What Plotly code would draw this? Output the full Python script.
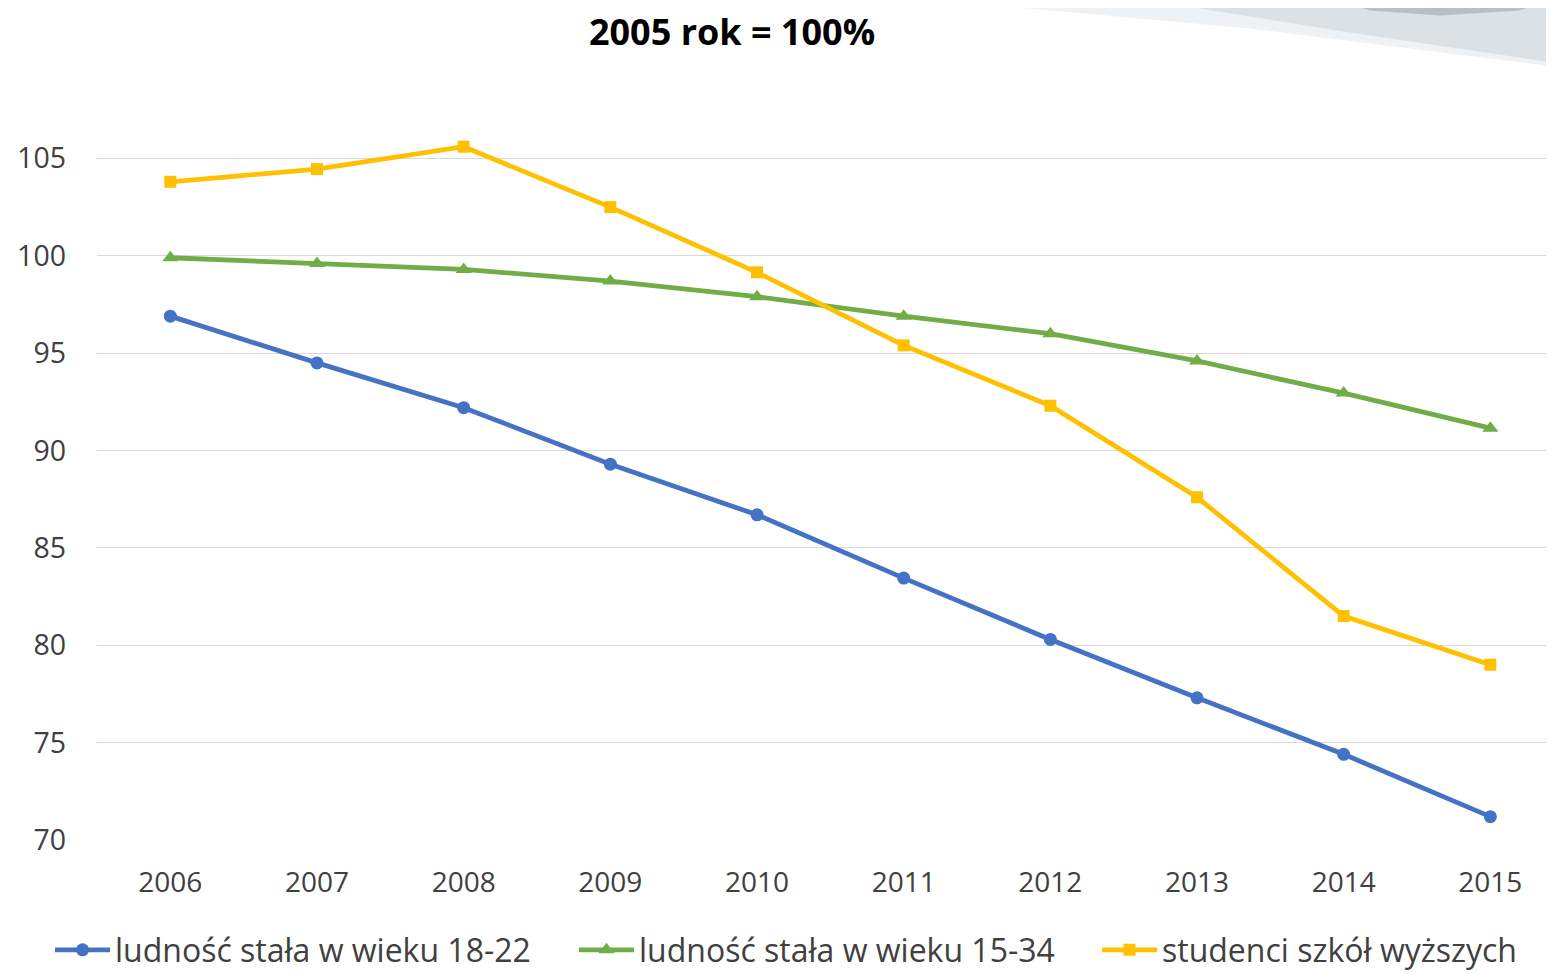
import plotly.graph_objects as go

years = [2006, 2007, 2008, 2009, 2010, 2011, 2012, 2013, 2014, 2015]
pop_18_22 = [96.9, 94.5, 92.2, 89.3, 86.7, 83.45, 80.3, 77.3, 74.4, 71.2]
pop_15_34 = [99.9, 99.6, 99.3, 98.7, 97.9, 96.9, 96.0, 94.6, 92.95, 91.15]
students = [103.8, 104.45, 105.6, 102.5, 99.15, 95.4, 92.3, 87.6, 81.5, 79.0]
names = ["ludność stała w wieku 18-22", "ludność stała w wieku 15-34", "studenci szkół wyższych"]
y_ticks = [70, 75, 80, 85, 90, 95, 100, 105]
title_text = "2005 rok = 100%"

OFF = 8  # page body margin
W, H = 1554 - OFF, 974 - OFF
L, R, T, B = 97 - OFF, 1554 - OFF, 99.5 - OFF, 840 - OFF
FONT = "Open Sans"

fig = go.Figure()
fig.add_trace(go.Scatter(x=years, y=pop_18_22, name=names[0], mode="lines+markers",
                         line=dict(color="#4472C4", width=4.8), legend="legend",
                         marker=dict(symbol="circle", size=13, color="#4472C4")))
fig.add_trace(go.Scatter(x=years, y=pop_15_34, name=names[1], mode="lines+markers",
                         line=dict(color="#70AD47", width=4.8), legend="legend2",
                         marker=dict(symbol="triangle-up", size=14, color="#70AD47")))
fig.add_trace(go.Scatter(x=years, y=students, name=names[2], mode="lines+markers",
                         line=dict(color="#FFC000", width=4.8), legend="legend3",
                         marker=dict(symbol="square", size=12, color="#FFC000")))

def px2paper(px, py):
    px -= OFF
    py -= OFF
    return (px - L) / (R - L), (B - py) / (B - T)

def path(points):
    pts = [px2paper(x, y) for x, y in points]
    return "M " + " L ".join(f"{x:.4f},{y:.4f}" for x, y in pts) + " Z"

shapes = [
    dict(type="path", xref="paper", yref="paper", layer="below",
         path=path([(940, 0), (1554, 0), (1554, 66), (1250, 28)]),
         fillcolor="rgba(220,226,230,0.45)", line=dict(width=0)),
    dict(type="path", xref="paper", yref="paper", layer="below",
         path=path([(1150, 0), (1554, 0), (1554, 62), (1350, 32)]),
         fillcolor="rgba(205,213,219,0.6)", line=dict(width=0)),
    dict(type="path", xref="paper", yref="paper", layer="below",
         path=path([(1340, 0), (1545, 0), (1520, 10), (1440, 15), (1370, 10)]),
         fillcolor="rgba(170,178,186,0.7)", line=dict(width=0)),
]

def leg(screen_x):
    return dict(orientation="h", xref="container", yref="container",
                x=(screen_x - OFF) / W, xanchor="left",
                y=(H - (950 - OFF)) / H, yanchor="middle",
                font=dict(size=32, color="#404040"), itemwidth=55,
                bgcolor="rgba(0,0,0,0)")

fig.update_layout(
    width=W, height=H,
    margin=dict(l=L, r=W - R, t=T, b=H - B, pad=0),
    paper_bgcolor="white", plot_bgcolor="white",
    font=dict(family=FONT, color="#404040"),
    title=dict(text="<b>" + title_text + "</b>", x=(732 - OFF) / W, xanchor="center",
               y=1 - (32 - OFF) / H, yanchor="middle",
               font=dict(size=36, color="black", family=FONT)),
    xaxis=dict(range=[2005.5, 2005.5 + (R - L) / 146.67], tickvals=years,
               ticktext=[str(y) for y in years], showgrid=False, zeroline=False,
               showline=False, ticks="", tickfont=dict(size=28, color="#404040"),
               ticklabelstandoff=23),
    yaxis=dict(range=[70, 108], tickvals=y_ticks, showgrid=True, gridcolor="#D9D9D9",
               gridwidth=1.3, zeroline=False, showline=False, ticks="",
               tickfont=dict(size=28.5, color="#404040"), ticklabelstandoff=30),
    legend=leg(50),
    legend2=leg(574),
    legend3=leg(1097),
    shapes=shapes,
    showlegend=True,
)

fig.write_html("out.html")
